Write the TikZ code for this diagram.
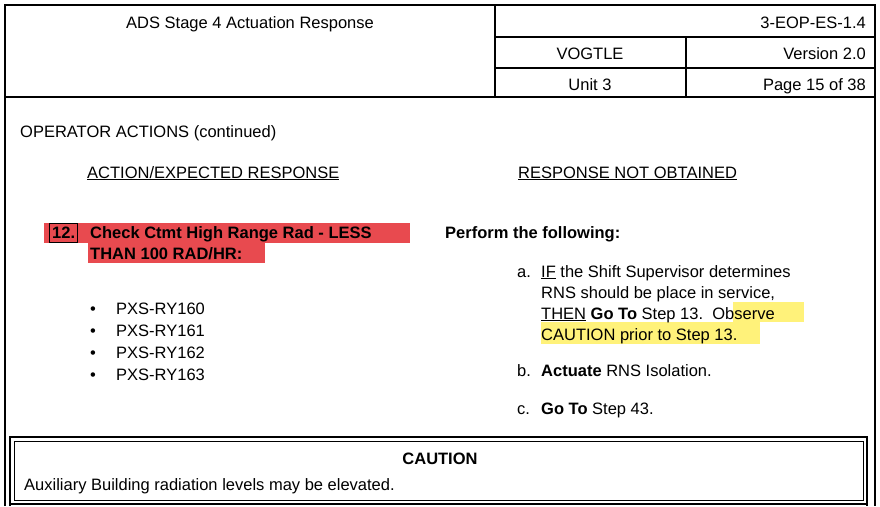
\documentclass[tikz,border=0pt]{standalone}
\usepackage{fontspec}
\setmainfont{Liberation Sans}
\definecolor{redhl}{HTML}{E84A4F}
\definecolor{yelhl}{HTML}{FFF27A}
\begin{document}
\begin{tikzpicture}[x=1pt,y=-1pt,
  txt/.style={inner sep=0pt,anchor=base west,font=\fontsize{16.5}{19}\selectfont},
  txtc/.style={txt,anchor=base},
  txte/.style={txt,anchor=base east},
  frame/.style={line width=2.4pt},
  thin/.style={line width=1.2pt}]
\useasboundingbox (0,0) rectangle (880,506);
% header frame
\draw[frame] (5,506) -- (5,5) -- (875,5) -- (875,506);
\draw[frame] (5,97) -- (875,97);
\draw[frame] (495,5) -- (495,97);
\draw[frame] (495,37) -- (875,37);
\draw[frame] (686,37) -- (686,97);
\draw[thin] (495,68) -- (875,68);
\node[txtc] (title) at (250,28) {ADS Stage 4 Actuation Response};
\node[txte] (docno) at (866,28) {3-EOP-ES-1.4};
\node[txtc] (plant) at (590,59) {VOGTLE};
\node[txte] (ver) at (866,59) {Version 2.0};
\node[txtc] (unit) at (590,90) {Unit 3};
\node[txte] (page) at (866,90) {Page 15 of 38};
% body
\node[txt] (opact) at (20,137) {OPERATOR ACTIONS (continued)};
\node[txt] (colA) at (87,178) {\underline{ACTION/EXPECTED RESPONSE}};
\node[txt] (colB) at (518,178) {\underline{RESPONSE NOT OBTAINED}};
% step 12
\fill[redhl] (44,223) rectangle (410,243);
\fill[redhl] (88,243) rectangle (265,263);
\node[txt,font=\fontsize{16.5}{19}\bfseries] (n12) at (52,238) {12.};
\draw[line width=0.8pt] (49,223.5) rectangle (77.5,242.5);
\node[txt,font=\fontsize{16.5}{19}\bfseries] (s12a) at (90,238) {Check Ctmt High Range Rad - LESS};
\node[txt,font=\fontsize{16.5}{19}\bfseries] (s12b) at (90,259) {THAN 100 RAD/HR:};
\foreach \y/\t [count=\i] in {314/PXS-RY160,336/PXS-RY161,358/PXS-RY162,380/PXS-RY163}{
  \node[txt] (bul\i) at (90,\y) {\textbullet};
  \node[txt] (it\i) at (116,\y) {\t};
}
% RNO
\node[txt,font=\fontsize{16.5}{19}\bfseries] (perf) at (445,238) {Perform the following:};
\fill[yelhl] (733,302) rectangle (804,322);
\fill[yelhl] (541,322) rectangle (760,344);
\node[txt] (la) at (517,277) {a.};
\node[txt] (a1) at (541,277) {\underline{IF} the Shift Supervisor determines};
\node[txt] (a2) at (541,298) {RNS should be place in service,};
\node[txt] (a3) at (541,319) {\underline{THEN} \textbf{Go To} Step 13.\ \ Observe};
\node[txt] (a4) at (541,340) {CAUTION prior to Step 13.};
\node[txt] (lb) at (517,376) {b.};
\node[txt] (b1) at (541,376) {\textbf{Actuate} RNS Isolation.};
\node[txt] (lc) at (517,414) {c.};
\node[txt] (c1) at (541,414) {\textbf{Go To} Step 43.};
% caution box
\draw[line width=2.4pt] (10,506) -- (10,437) -- (867,437) -- (867,506);
\draw[line width=2.4pt] (10,504) -- (867,504);
\draw[line width=1pt] (14,500) -- (14,441.5) -- (863,441.5) -- (863,500) -- cycle;
\node[txtc,font=\fontsize{16.5}{19}\bfseries] (caut) at (440,464) {CAUTION};
\node[txt] (cautt) at (24,490) {Auxiliary Building radiation levels may be elevated.};
\end{tikzpicture}
\end{document}
